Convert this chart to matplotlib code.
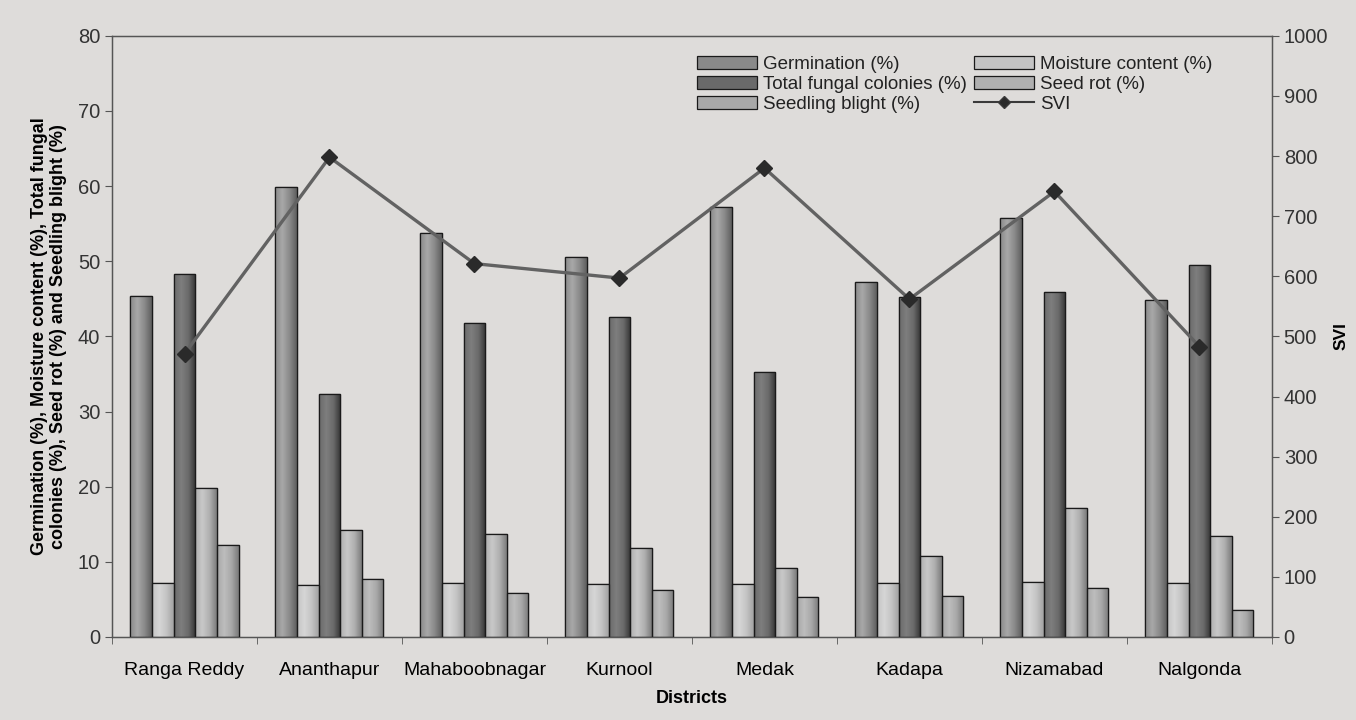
import numpy as np
import matplotlib
matplotlib.use("Agg")
import matplotlib.pyplot as plt
from matplotlib.colors import LinearSegmentedColormap
from matplotlib.lines import Line2D

plt.rcParams['font.family'] = ['Liberation Sans', 'DejaVu Sans']

districts = ["Ranga Reddy", "Ananthapur", "Mahaboobnagar", "Kurnool",
             "Medak", "Kadapa", "Nizamabad", "Nalgonda"]
germination = [45.4, 59.9, 53.7, 50.6, 57.2, 47.3, 55.8, 44.8]
moisture = [7.2, 6.9, 7.2, 7.0, 7.0, 7.2, 7.3, 7.2]
total_fungal = [48.3, 32.3, 41.8, 42.6, 35.2, 45.2, 45.9, 49.5]
seed_rot = [19.8, 14.3, 13.7, 11.9, 9.2, 10.8, 17.2, 13.4]
seedling_blight = [12.2, 7.7, 5.8, 6.3, 5.3, 5.4, 6.5, 3.6]
svi = [471, 798, 621, 597, 780, 562, 741, 483]

series = [
    ("Germination (%)", germination, ("#8a8a8a", "#a8a8a8", "#5e5e5e")),
    ("Moisture content (%)", moisture, ("#c4c4c4", "#d6d6d6", "#a2a2a2")),
    ("Total fungal colonies (%)", total_fungal, ("#6a6a6a", "#7e7e7e", "#333333")),
    ("Seed rot (%)", seed_rot, ("#b0b0b0", "#c8c8c8", "#7c7c7c")),
    ("Seedling blight (%)", seedling_blight, ("#a8a8a8", "#bdbdbd", "#7a7a7a")),
]

bg = "#dedcda"
fig = plt.figure(figsize=(13.56, 7.2), dpi=100, facecolor=bg)
ax = fig.add_axes([0.0826, 0.1153, 0.8554, 0.835])
ax.set_facecolor(bg)

x = np.arange(len(districts))
bw = 0.149
containers = {}
for i, (name, vals, (cm, cl, cd)) in enumerate(series):
    offs = (i - 2) * bw
    bars = ax.bar(x + offs, vals, bw, color=cm, edgecolor="#1a1a1a",
                  linewidth=0.9, label=name, zorder=2)
    containers[name] = bars
    cmap = LinearSegmentedColormap.from_list(name, [cm, cl, cm, cd])
    grad = np.linspace(0, 1, 64).reshape(1, -1)
    for p in bars:
        bx, by, w, h = p.get_x(), p.get_y(), p.get_width(), p.get_height()
        im = ax.imshow(grad, cmap=cmap, extent=(bx, bx + w, by, by + h),
                       aspect="auto", zorder=2.5, interpolation="bilinear")
        im.set_clip_path(p)
        ax.add_patch(plt.Rectangle((bx, by), w, h, fill=False,
                                   edgecolor="#1a1a1a", linewidth=0.9, zorder=3))

ax.set_xlim(-0.5, len(districts) - 0.5)
ax.set_ylim(0, 80)
ax.set_yticks(np.arange(0, 81, 10))
ax.set_xticks(x)
ax.set_xticklabels(districts, fontsize=14)
ax.set_xticks(np.arange(-0.5, len(districts), 1), minor=True)
ax.tick_params(axis="x", which="major", length=0, pad=18)
ax.tick_params(axis="x", which="minor", length=5, direction="out", color="#555555")
ax.tick_params(axis="y", labelsize=14.5, length=5, direction="out", color="#555555",
               labelcolor="#333333")
for s in ax.spines.values():
    s.set_color("#555555")
    s.set_linewidth(1.0)
ax.set_ylabel("Germination (%), Moisture content (%), Total fungal\n"
              "colonies (%), Seed rot (%) and Seedling blight (%)",
              fontsize=13, fontweight="bold", labelpad=8, linespacing=1.1)
ax.set_xlabel("Districts", fontsize=13, fontweight="bold", labelpad=8)

ax2 = ax.twinx()
ax2.plot(x, svi, color="#626262", linewidth=2.4, marker="D", markersize=8,
         markerfacecolor="#2a2a2a", markeredgecolor="#2a2a2a", zorder=5)
ax2.set_ylim(0, 1000)
ax2.set_yticks(np.arange(0, 1001, 100))
ax2.tick_params(axis="y", labelsize=14.5, length=5, direction="out", color="#555555",
                labelcolor="#333333")
ax2.set_ylabel("SVI", fontsize=12.5, fontweight="bold", labelpad=4)
for s in ax2.spines.values():
    s.set_color("#555555")

svi_handle = Line2D([], [], color="#3a3a3a", linewidth=1.5, marker="D",
                    markersize=6, markerfacecolor="#2a2a2a")
handles = [containers["Germination (%)"], containers["Total fungal colonies (%)"],
           containers["Seedling blight (%)"], containers["Moisture content (%)"],
           containers["Seed rot (%)"], svi_handle]
labels = ["Germination (%)", "Total fungal colonies (%)", "Seedling blight (%)",
          "Moisture content (%)", "Seed rot (%)", "SVI"]
leg = ax2.legend(handles, labels, ncol=2, loc="upper left",
                 bbox_to_anchor=(0.49, 0.995), frameon=False, fontsize=13.5,
                 handlelength=3.2, handleheight=0.7, columnspacing=0.4,
                 handletextpad=0.3, labelspacing=0.15)
for t in leg.get_texts():
    t.set_color("#222222")

fig.savefig("out.png", dpi=100, facecolor=bg)
